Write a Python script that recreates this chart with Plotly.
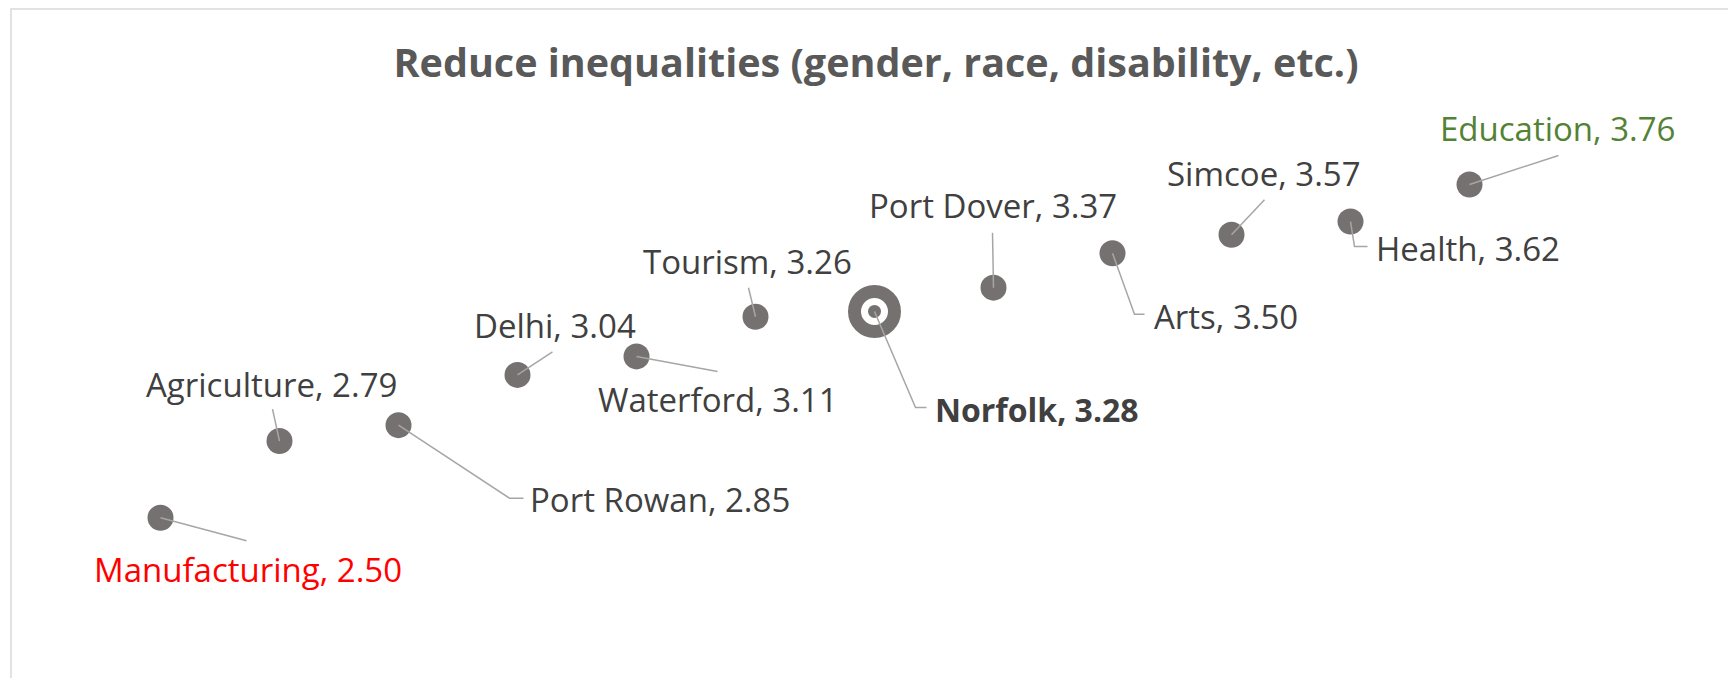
import plotly.graph_objects as go

# ---- data ----
categories = ["Manufacturing", "Agriculture", "Port Rowan", "Delhi", "Waterford", "Tourism",
              "Norfolk", "Port Dover", "Arts", "Simcoe", "Health", "Education"]
values = [2.50, 2.79, 2.85, 3.04, 3.11, 3.26, 3.28, 3.37, 3.50, 3.57, 3.62, 3.76]
highlight = "Norfolk"
label_colors = {"Manufacturing": "#FF0000", "Education": "#548235"}
title_text = "Reduce inequalities (gender, race, disability, etc.)"

# ---- label placement (screen pixel offsets from the point, +y = down) ----
label_offsets = {
    "Manufacturing": (87, 52), "Agriculture": (-8, -57), "Port Rowan": (261, 74),
    "Delhi": (37, -49), "Waterford": (81, 43), "Tourism": (-8, -55),
    "Norfolk": (162, 98), "Port Dover": (-1, -82), "Arts": (113, 63),
    "Simcoe": (32, -61), "Health": (117, 27), "Education": (88, -56),
}
leader_paths = {
    "Manufacturing": [(86, 23)], "Agriculture": [(-7, -32)], "Port Rowan": [(111, 73), (125, 73)],
    "Delhi": [(35, -23)], "Waterford": [(81, 15)], "Tourism": [(-7, -29)],
    "Norfolk": [(41, 96), (52, 96)], "Port Dover": [(-1, -55)], "Arts": [(22, 61), (32, 61)],
    "Simcoe": [(33, -35)], "Health": [(4, 25), (17, 25)], "Education": [(89, -29)],
}

W, H = 1736, 678
OFF = 8  # page body margin compensation
N = len(categories)
SLOT = 119  # pixel width of one category slot
EXTRA = 1   # extra empty slot on the right so leader lines are not clipped
ML, MT, MB = 101 - OFF, 121 - OFF, 28 + OFF
MR = W - ML - SLOT * (N + EXTRA)
YMIN, YMAX = 2.0, 4.0
plot_w = W - ML - MR
plot_h = H - MT - MB
px_x = plot_w / (N + EXTRA)
px_y = plot_h / (YMAX - YMIN)

MARK = "#767171"
LEAD = "#A6A6A6"
TXT = "#404040"

fig = go.Figure()

# regular points
reg_x = [i for i, c in enumerate(categories) if c != highlight]
reg_y = [values[i] for i in reg_x]
fig.add_trace(go.Scatter(x=reg_x, y=reg_y, mode="markers",
                         marker=dict(size=26, color=MARK, line=dict(width=0)),
                         hoverinfo="skip", showlegend=False))
# highlighted point (ring + dot)
hi = categories.index(highlight)
fig.add_trace(go.Scatter(x=[hi], y=[values[hi]], mode="markers",
                         marker=dict(size=40, color="white", line=dict(width=13, color=MARK)),
                         hoverinfo="skip", showlegend=False))
fig.add_trace(go.Scatter(x=[hi], y=[values[hi]], mode="markers",
                         marker=dict(size=13, color=MARK, line=dict(width=0)),
                         hoverinfo="skip", showlegend=False))

# leader lines
lx, ly = [], []
for i, c in enumerate(categories):
    pts = [(0, 0)] + leader_paths[c]
    for dx, dy in pts:
        lx.append(i + dx / px_x)
        ly.append(values[i] - dy / px_y)
    lx.append(None)
    ly.append(None)
fig.add_trace(go.Scatter(x=lx, y=ly, mode="lines", line=dict(color=LEAD, width=1.5),
                         hoverinfo="skip", showlegend=False))

# data labels
annotations = []
for i, c in enumerate(categories):
    dx, dy = label_offsets[c]
    txt = f"{c}, {values[i]:.2f}"
    size = 33
    if c == highlight:
        txt = f"<b>{txt}</b>"
        size = 32
    annotations.append(dict(x=i, y=values[i], xref="x", yref="y", text=txt,
                            showarrow=False, xshift=dx, yshift=-dy,
                            xanchor="center", yanchor="middle",
                            font=dict(family="Open Sans", size=size,
                                      color=label_colors.get(c, TXT))))

# chart border (top/left visible)
bx, by = 11 - OFF, 9 - OFF
shapes = [dict(type="rect", xref="paper", yref="paper",
               x0=(bx - ML) / plot_w, x1=(W + 20 - ML) / plot_w,
               y0=-(MB + 20) / plot_h, y1=(H - by - MB) / plot_h,
               line=dict(color="#D9D9D9", width=1.5), fillcolor="rgba(0,0,0,0)", layer="below")]

fig.update_layout(
    width=W, height=H,
    margin=dict(l=ML, r=MR, t=MT, b=MB),
    paper_bgcolor="white", plot_bgcolor="white",
    title=dict(text=title_text, xref="container", yref="container",
               x=(876 - OFF) / W, y=1 - (63 - OFF) / H, xanchor="center", yanchor="middle",
               font=dict(family="Open Sans", size=39.5, color="#595959", weight="bold")),
    xaxis=dict(range=[-0.5, N + EXTRA - 0.5], visible=False, fixedrange=True),
    yaxis=dict(range=[YMIN, YMAX], visible=False, fixedrange=True),
    annotations=annotations,
    shapes=shapes,
    showlegend=False,
)

fig.write_html("out.html")
